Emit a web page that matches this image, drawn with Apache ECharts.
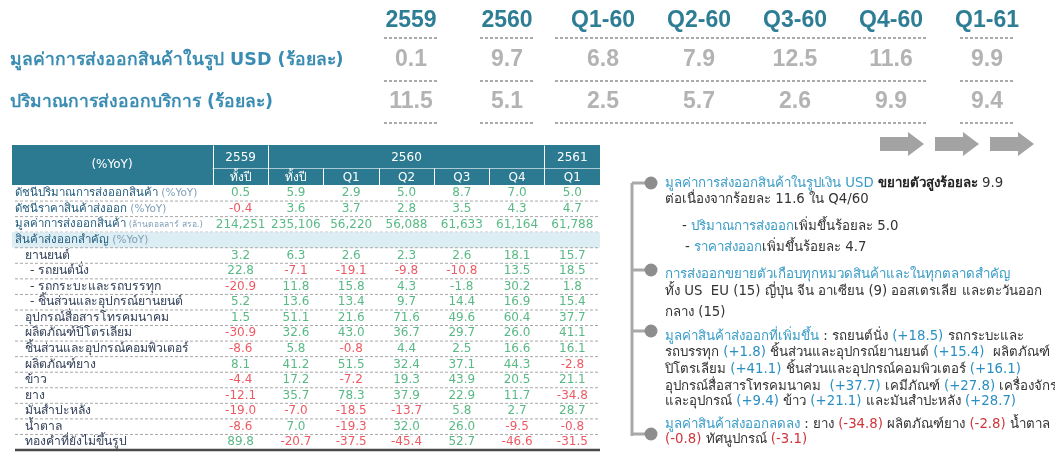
<!DOCTYPE html>
<html><head><meta charset="utf-8">
<script src="https://cdn.jsdelivr.net/npm/echarts@6/dist/echarts.min.js"></script>
<style>html,body{margin:0;padding:0;background:#fff}#c{width:1055px;height:466px}</style>
</head><body><div id="c"></div>
<script>
// ---------- DATA ----------
const summaryPeriods = ['2559', '2560', 'Q1-60', 'Q2-60', 'Q3-60', 'Q4-60', 'Q1-61'];
const summaryRows = ['มูลค่าการส่งออกสินค้าในรูป USD (ร้อยละ)', 'ปริมาณการส่งออกบริการ (ร้อยละ)'];
const exportValueUSDGrowth = [0.1, 9.7, 6.8, 7.9, 12.5, 11.6, 9.9];
const serviceExportGrowth = [11.5, 5.1, 2.5, 5.7, 2.6, 9.9, 9.4];

const tableYears = ['2559', '', '', '2560', '', '', '2561'];
const tablePeriods = ['ทั้งปี', 'ทั้งปี', 'Q1', 'Q2', 'Q3', 'Q4', 'Q1'];
const tableHeaderLabel = '(%YoY)';
const rowLabels = [
  'ดัชนีปริมาณการส่งออกสินค้า (%YoY)',
  'ดัชนีราคาสินค้าส่งออก (%YoY)',
  'มูลค่าการส่งออกสินค้า (ล้านดอลลาร์ สรอ.)',
  'สินค้าส่งออกสำคัญ (%YoY)',
  'ยานยนต์',
  '- รถยนต์นั่ง',
  '- รถกระบะและรถบรรทุก',
  '- ชิ้นส่วนและอุปกรณ์ยานยนต์',
  'อุปกรณ์สื่อสารโทรคมนาคม',
  'ผลิตภัณฑ์ปิโตรเลียม',
  'ชิ้นส่วนและอุปกรณ์คอมพิวเตอร์',
  'ผลิตภัณฑ์ยาง',
  'ข้าว',
  'ยาง',
  'มันสำปะหลัง',
  'น้ำตาล',
  'ทองคำที่ยังไม่ขึ้นรูป'
];
const rowLevel = [0, 0, 0, 0, 1, 2, 2, 2, 1, 1, 1, 1, 1, 1, 1, 1, 1];
const volumeIndex = [0.5, 5.9, 2.9, 5.0, 8.7, 7.0, 5.0];
const priceIndex = [-0.4, 3.6, 3.7, 2.8, 3.5, 4.3, 4.7];
const exportValueMUSD = [214251, 235106, 56220, 56088, 61633, 61164, 61788];
const automotive = [3.2, 6.3, 2.6, 2.3, 2.6, 18.1, 15.7];
const passengerCars = [22.8, -7.1, -19.1, -9.8, -10.8, 13.5, 18.5];
const pickupsTrucks = [-20.9, 11.8, 15.8, 4.3, -1.8, 30.2, 1.8];
const autoParts = [5.2, 13.6, 13.4, 9.7, 14.4, 16.9, 15.4];
const telecomEquipment = [1.5, 51.1, 21.6, 71.6, 49.6, 60.4, 37.7];
const petroleumProducts = [-30.9, 32.6, 43.0, 36.7, 29.7, 26.0, 41.1];
const computerParts = [-8.6, 5.8, -0.8, 4.4, 2.5, 16.6, 16.1];
const rubberProducts = [8.1, 41.2, 51.5, 32.4, 37.1, 44.3, -2.8];
const rice = [-4.4, 17.2, -7.2, 19.3, 43.9, 20.5, 21.1];
const rubber = [-12.1, 35.7, 78.3, 37.9, 22.9, 11.7, -34.8];
const cassava = [-19.0, -7.0, -18.5, -13.7, 5.8, 2.7, 28.7];
const sugar = [-8.6, 7.0, -19.3, 32.0, 26.0, -9.5, -0.8];
const unwroughtGold = [89.8, -20.7, -37.5, -45.4, 52.7, -46.6, -31.5];
// cells printed green in the source although negative: [row, col]
const greenExceptions = [[6, 4]];

const noteLines = [
  '{t|มูลค่าการส่งออกสินค้าในรูปเงิน USD} {b|ขยายตัวสูงร้อยละ} 9.9',
  'ต่อเนื่องจากร้อยละ 11.6 ใน Q4/60',
  '- {t|ปริมาณการส่งออก}เพิ่มขึ้นร้อยละ 5.0',
  '- {t|ราคาส่งออก}เพิ่มขึ้นร้อยละ 4.7',
  '{t|การส่งออกขยายตัวเกือบทุกหมวดสินค้าและในทุกตลาดสำคัญ}',
  'ทั้ง US  EU (15) ญี่ปุ่น จีน อาเซียน (9) ออสเตรเลีย และตะวันออก',
  'กลาง (15)',
  '{t|มูลค่าสินค้าส่งออกที่เพิ่มขึ้น} : รถยนต์นั่ง {p|(+18.5)} รถกระบะและ',
  'รถบรรทุก {p|(+1.8)} ชิ้นส่วนและอุปกรณ์ยานยนต์ {p|(+15.4)}  ผลิตภัณฑ์',
  'ปิโตรเลียม {p|(+41.1)} ชิ้นส่วนและอุปกรณ์คอมพิวเตอร์ {p|(+16.1)}',
  'อุปกรณ์สื่อสารโทรคมนาคม  {p|(+37.7)} เคมีภัณฑ์ {p|(+27.8)} เครื่องจักร',
  'และอุปกรณ์ {p|(+9.4)} ข้าว {p|(+21.1)} และมันสำปะหลัง {p|(+28.7)}',
  '{t|มูลค่าสินค้าส่งออกลดลง} : ยาง {n|(-34.8)} ผลิตภัณฑ์ยาง {n|(-2.8)} น้ำตาล',
  '{n|(-0.8)} ทัศนูปกรณ์ {n|(-3.1)}'
];

// ---------- BUILD ----------
const tableValues = [volumeIndex, priceIndex, exportValueMUSD, null, automotive, passengerCars,
  pickupsTrucks, autoParts, telecomEquipment, petroleumProducts, computerParts, rubberProducts,
  rice, rubber, cassava, sugar, unwroughtGold];

const FONT = 'Tahoma, "DejaVu Sans", "Noto Sans", sans-serif';
const GREEN = '#2fa866', RED = '#e8303c', TEAL = '#2c7a92';

const summaryData = [];
[exportValueUSDGrowth, serviceExportGrowth].forEach((arr, r) => arr.forEach((v, c) => summaryData.push([c, r, v])));

const tableData = [];
tableValues.forEach((arr, r) => {
  if (!arr) return;
  arr.forEach((v, c) => {
    const isExc = greenExceptions.some(e => e[0] === r && e[1] === c);
    tableData.push({ value: [c, r, v], label: { color: (v < 0 && !isExc) ? RED : GREEN } });
  });
});

const inGroup = i => /^Q.*-60$/.test(summaryPeriods[i] || '');

// notes layout
const noteX = [665, 665, 682, 685, 665, 665, 665, 665, 665, 665, 665, 665, 665, 665];
const noteY = [184, 200, 227, 248, 275, 292, 313, 337, 353, 370, 387, 402, 425, 440];
const dotY = [183, 270, 331, 434];
const NOTE_FONT = '13.3px ' + FONT;

const graphics = [
  { type: 'rect', z: -1, shape: { x: 12, y: 145, width: 588, height: 40 }, style: { fill: TEAL } },
  { type: 'text', z: 5, style: { text: tableHeaderLabel, x: 112, y: 165, fill: '#fff', font: '12px ' + FONT, textAlign: 'center', textVerticalAlign: 'middle' } },
  { type: 'line', shape: { x1: 632, y1: dotY[0], x2: 632, y2: dotY[3] + 2 }, style: { stroke: '#a8a8a8', lineWidth: 3 } }
];
[880, 935, 990].forEach(x0 => {
  graphics.push({ type: 'polygon', shape: { points: [[x0, 137], [x0 + 28, 137], [x0 + 28, 132], [x0 + 44, 144], [x0 + 28, 156], [x0 + 28, 151], [x0, 151]] }, style: { fill: '#a3a3a3' } });
});
dotY.forEach(y => {
  graphics.push({ type: 'line', shape: { x1: 632, y1: y, x2: 650, y2: y }, style: { stroke: '#a8a8a8', lineWidth: 3 } });
  graphics.push({ type: 'circle', shape: { cx: 651, cy: y, r: 6.5 }, style: { fill: '#8d8d8d' } });
});
noteLines.forEach((t, i) => {
  graphics.push({ type: 'text', style: {
    text: t, x: noteX[i], y: noteY[i], textVerticalAlign: 'middle', fill: '#333', font: NOTE_FONT,
    rich: {
      t: { fill: '#3a9cc6', font: NOTE_FONT },
      b: { fill: '#222', font: 'bold ' + NOTE_FONT },
      p: { fill: '#2b8fc2', font: NOTE_FONT },
      n: { fill: '#d0343a', font: NOTE_FONT }
    }
  } });
});

const option = {
  backgroundColor: '#fff',
  animation: false,
  textStyle: { fontFamily: FONT },
  grid: [
    { left: 363, right: 20, top: 39, height: 84 },
    { left: 213, right: 455, top: 185.5, height: 264.5 }
  ],
  xAxis: [
    { type: 'category', gridIndex: 0, position: 'top', data: summaryPeriods,
      axisLine: { show: false }, axisTick: { show: false }, splitLine: { show: false },
      axisLabel: { color: '#2d7d95', fontSize: 23, fontWeight: 'bold', fontFamily: '"Liberation Sans", Arial, sans-serif', margin: 7, interval: 0 } },
    { type: 'category', gridIndex: 1, position: 'top', data: tablePeriods,
      axisLine: { show: false }, splitLine: { show: false },
      axisTick: { show: true, length: 17, lineStyle: { color: '#fff', width: 1 } },
      axisLabel: { color: '#fff', fontSize: 12, margin: 2, interval: 0, fontFamily: FONT } },
    { type: 'category', gridIndex: 1, position: 'top', offset: 17, data: tableYears,
      axisLine: { show: true, lineStyle: { color: 'rgba(255,255,255,0.6)', width: 1 } }, splitLine: { show: false },
      axisTick: { show: true, length: 23, interval: (i) => i === 0 || i === 1 || i === 6, lineStyle: { color: '#fff', width: 1 } },
      axisLabel: { color: '#fff', fontSize: 12, margin: 5, interval: 0, fontFamily: FONT } }
  ],
  yAxis: [
    { type: 'category', gridIndex: 0, inverse: true, data: summaryRows,
      axisLine: { show: false }, axisTick: { show: false }, splitLine: { show: false },
      axisLabel: { align: 'left', margin: 353, color: '#3a8cb2', fontSize: 17.5, fontWeight: 'bold', interval: 0, fontFamily: FONT } },
    { type: 'category', gridIndex: 1, inverse: true, data: rowLabels, z: 5,
      axisLine: { show: false }, axisTick: { show: false }, splitLine: { show: false },
      axisLabel: { align: 'left', margin: 198, interval: 0, fontFamily: FONT,
        formatter: (val, idx) => {
          const lvl = rowLevel[idx];
          if (lvl === 0) {
            const k = val.indexOf(' (');
            if (k < 0) return '{h|' + val + '}';
            const suffix = val.slice(k);
            return '{h|' + val.slice(0, k) + '}{' + (suffix.length > 10 ? 'ys' : 'y') + '|' + suffix + '}';
          }
          return '{l' + lvl + '|' + val + '}';
        },
        rich: {
          h: { color: '#1f5a7c', fontSize: 11.5, fontFamily: FONT },
          y: { color: '#7f9fb6', fontSize: 10.5, fontFamily: FONT },
          ys: { color: '#7f9fb6', fontSize: 8.5, fontFamily: FONT },
          l1: { color: '#2f3d55', fontSize: 12.2, fontFamily: FONT, padding: [0, 0, 0, 10] },
          l2: { color: '#2f3d55', fontSize: 12.2, fontFamily: FONT, padding: [0, 0, 0, 15] }
        } } }
  ],
  series: [
    { type: 'custom', xAxisIndex: 0, yAxisIndex: 0, z: 1, silent: true,
      data: summaryPeriods.map((_, i) => [i, 0]),
      renderItem: (params, api) => {
        const i = api.value(0);
        const cx = api.coord([i, 0])[0];
        const w = api.size([1, 0])[0];
        const cs = params.coordSys;
        let x1, x2;
        if (inGroup(i)) {
          x1 = cx - w / 2;
          x2 = inGroup(i + 1) ? cx + w / 2 : cx + w * 0.38;
        } else { x1 = cx - 27; x2 = cx + 27; }
        const ys = [cs.y - 1, cs.y + cs.height / 2, cs.y + cs.height];
        return { type: 'group', children: ys.map(y => ({ type: 'line', shape: { x1, y1: y, x2, y2: y },
          style: { stroke: '#8f8f8f', lineWidth: 1.5, lineDash: [3, 2] } })) };
      } },
    { type: 'scatter', xAxisIndex: 0, yAxisIndex: 0, z: 3, symbolSize: 1, itemStyle: { color: 'rgba(0,0,0,0)' },
      data: summaryData,
      label: { show: true, position: 'inside', color: '#a0a0a0', fontSize: 23, fontWeight: 'bold',
        fontFamily: '"Liberation Sans", Arial, sans-serif', formatter: p => p.value[2].toFixed(1) } },
    { type: 'custom', xAxisIndex: 1, yAxisIndex: 1, z: 0, silent: true,
      data: rowLabels.map((_, r) => [0, r]),
      renderItem: (params, api) => {
        const r = api.value(1);
        const cs = params.coordSys;
        const yc = api.coord([0, r])[1];
        const h = api.size([0, 1])[1];
        const right = cs.x + cs.width;
        const ch = [];
        if (!tableValues[r]) ch.push({ type: 'rect', shape: { x: 12, y: yc - h / 2, width: right - 12, height: h }, style: { fill: '#dcedf4' } });
        const yb = yc + h / 2;
        if (r === rowLabels.length - 1) {
          ch.push({ type: 'line', shape: { x1: 15, y1: yb, x2: right, y2: yb }, style: { stroke: '#4a4a4a', lineWidth: 2.5 } });
        } else {
          ch.push({ type: 'line', shape: { x1: 15, y1: yb, x2: right, y2: yb }, style: { stroke: '#a8a8a8', lineWidth: 1, lineDash: [3, 2] } });
        }
        return { type: 'group', children: ch };
      } },
    { type: 'scatter', xAxisIndex: 1, yAxisIndex: 1, z: 3, symbolSize: 1, itemStyle: { color: 'rgba(0,0,0,0)' },
      data: tableData,
      label: { show: true, position: 'inside', fontSize: 12, fontFamily: '"DejaVu Sans", Tahoma, sans-serif',
        formatter: p => p.value[1] === 2 ? p.value[2].toLocaleString('en-US') : p.value[2].toFixed(1) } }
  ],
  graphic: { elements: graphics }
};

const chart = echarts.init(document.getElementById('c'));
chart.setOption(option);
</script>
</body></html>
